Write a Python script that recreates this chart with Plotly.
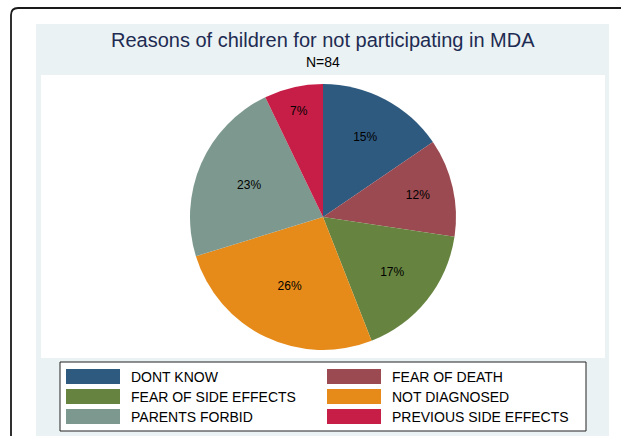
import plotly.graph_objects as go

# ---- data ----
labels = ["DONT KNOW", "FEAR OF DEATH", "FEAR OF SIDE EFFECTS",
          "NOT DIAGNOSED", "PARENTS FORBID", "PREVIOUS SIDE EFFECTS"]
counts = [13, 10, 14, 22, 19, 6]
colors = ["#2F5A7F", "#9A4A50", "#66843F", "#E68B1A", "#7D998F", "#C71E47"]
title_text = "Reasons of children for not participating in MDA"
subtitle_text = "N=84"

W, H = 621, 436


def px(x):
    return x / W


def py(y):
    return 1 - y / H


FONT = "Liberation Sans, Arial, sans-serif"

cx, cy, r = 323, 217, 133

fig = go.Figure()
fig.add_trace(go.Pie(
    labels=labels, values=counts, sort=False, direction="clockwise", rotation=0,
    marker=dict(colors=colors, line=dict(width=0)),
    texttemplate="%{percent:.0%}", textposition="inside",
    insidetextorientation="horizontal",
    textfont=dict(family=FONT, size=12, color="black"),
    domain=dict(x=[px(cx - r), px(cx + r)], y=[py(cy + r), py(cy - r)]),
    showlegend=False, hoverinfo="label+percent",
))

shapes = []
# outer rounded frame
rad = 7
x0, y0 = 11, 8
path = (f"M {px(x0)},{py(H + 20)} L {px(x0)},{py(y0 + rad)} "
        f"Q {px(x0)},{py(y0)} {px(x0 + rad)},{py(y0)} L {px(W + 20)},{py(y0)}")
shapes.append(dict(type="path", xref="paper", yref="paper", path=path,
                   line=dict(color="#1a1a1a", width=1.8), layer="below"))
# graph region
shapes.append(dict(type="rect", xref="paper", yref="paper",
                   x0=px(36), x1=px(609), y0=py(H + 5), y1=py(24),
                   fillcolor="#EAF2F3", line=dict(width=0), layer="below"))
# plot region
shapes.append(dict(type="rect", xref="paper", yref="paper",
                   x0=px(41), x1=px(605), y0=py(358), y1=py(75),
                   fillcolor="white", line=dict(width=0), layer="below"))
# legend box
shapes.append(dict(type="rect", xref="paper", yref="paper",
                   x0=px(60), x1=px(586), y0=py(431), y1=py(362),
                   fillcolor="white", line=dict(color="#222222", width=1), layer="below"))

annotations = [
    dict(text=title_text, x=px(323), y=py(40), xref="paper", yref="paper",
         showarrow=False, xanchor="center", yanchor="middle",
         font=dict(family=FONT, size=20, color="#1E2B52")),
    dict(text=subtitle_text, x=px(323), y=py(62), xref="paper", yref="paper",
         showarrow=False, xanchor="center", yanchor="middle",
         font=dict(family=FONT, size=14, color="black")),
]

# legend entries, two columns
col_sw = [(66, 120), (327, 381)]
col_tx = [129, 390]
row_y = [376.5, 396.5, 416.5]
for i, (lab, col) in enumerate(zip(labels, colors)):
    c = i % 2
    rw = i // 2
    yc = row_y[rw]
    shapes.append(dict(type="rect", xref="paper", yref="paper",
                       x0=px(col_sw[c][0]), x1=px(col_sw[c][1]),
                       y0=py(yc + 7.5), y1=py(yc - 7.5),
                       fillcolor=col, line=dict(width=0), layer="below"))
    annotations.append(dict(text=lab, x=px(col_tx[c]), y=py(yc), xref="paper", yref="paper",
                            showarrow=False, xanchor="left", yanchor="middle",
                            font=dict(family=FONT, size=14, color="black")))

fig.update_layout(
    width=W, height=H, margin=dict(l=0, r=0, t=0, b=0),
    paper_bgcolor="white", plot_bgcolor="white",
    shapes=shapes, annotations=annotations, showlegend=False,
)

fig.write_html("out.html")
